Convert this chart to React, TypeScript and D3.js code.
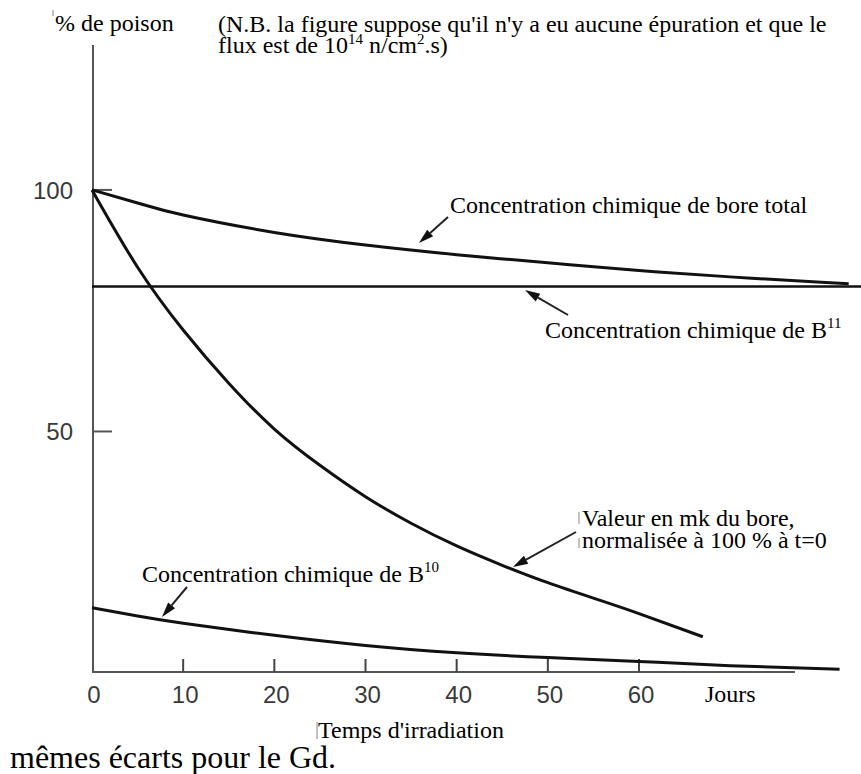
import React from "react";
import * as d3 from "d3";

const xTickValues = [0, 10, 20, 30, 40, 50, 60];
const yTickValues = [50, 100];

const totalDays = [0, 5, 10, 20, 30, 40, 50, 60, 70, 80, 83];
const totalPct = [100, 97.3, 94.8, 91.2, 88.6, 86.6, 84.9, 83.3, 82.0, 80.9, 80.6];

const b11Days = [0, 84.5];
const b11Pct = [80, 80];

const mkDays = [0, 5, 10, 15, 20, 25, 30, 35, 40, 45, 50, 55, 60, 67];
const mkPct = [100, 84, 71, 60, 50.5, 43, 36.5, 31, 26.3, 22.3, 18.7, 15.5, 12.3, 7.5];

const b10Days = [0, 5, 10, 20, 30, 40, 50, 60, 70, 82];
const b10Pct = [13.5, 11.8, 10.3, 7.8, 5.7, 4.2, 3.2, 2.4, 1.5, 0.8];

const W = 861;
const H = 774;

const x = d3.scaleLinear().domain([0, 60]).range([92, 639]);
const y = d3.scaleLinear().domain([0, 130]).range([673, 45]);

const serif = "'Liberation Serif', 'Times New Roman', serif";
const sans = "'Liberation Sans', Arial, sans-serif";

function zip(a: number[], b: number[]): [number, number][] {
  return a.map((d, i) => [d, b[i]]);
}

const lineGen = d3
  .line<[number, number]>()
  .x((d) => x(d[0]))
  .y((d) => y(d[1]))
  .curve(d3.curveNatural);

function Arrow({ x1, y1, x2, y2 }: { x1: number; y1: number; x2: number; y2: number }) {
  const ang = Math.atan2(y2 - y1, x2 - x1);
  const len = 15;
  const half = 4.5;
  const bx = x2 - len * Math.cos(ang);
  const by = y2 - len * Math.sin(ang);
  const px = -Math.sin(ang) * half;
  const py = Math.cos(ang) * half;
  return (
    <g>
      <line x1={x1} y1={y1} x2={bx} y2={by} stroke="#222" strokeWidth={2} />
      <path d={`M${x2},${y2} L${bx + px},${by + py} L${bx - px},${by - py} Z`} fill="#111" />
    </g>
  );
}

export default function App() {
  const xAxisEnd = 795;
  return (
    <svg
      width={W}
      height={H}
      style={{ position: "absolute", left: 0, top: 0, background: "#fff" }}
    >
      {/* axes */}
      <line x1={x(0) + 1} y1={y(130)} x2={x(0) + 1} y2={672} stroke="#555" strokeWidth={2} />
      <line x1={x(0)} y1={672} x2={xAxisEnd} y2={672} stroke="#555" strokeWidth={2} />
      {xTickValues.slice(1).map((t) => (
        <line key={"xt" + t} x1={x(t)} x2={x(t)} y1={672} y2={659} stroke="#444" strokeWidth={2} />
      ))}
      {xTickValues.map((t) => (
        <text
          key={"xl" + t}
          x={x(t) + 2}
          y={703}
          textAnchor="middle"
          fontFamily={sans}
          fontSize={24}
          fill="#3a3a3a"
        >
          {t}
        </text>
      ))}
      {yTickValues.map((v) => (
        <line key={"yt" + v} x1={x(0) + 1} x2={x(0) + 20} y1={y(v)} y2={y(v)} stroke="#555" strokeWidth={2} />
      ))}
      {yTickValues.map((v) => (
        <text
          key={"yl" + v}
          x={73}
          y={y(v) + 9}
          textAnchor="end"
          fontFamily={sans}
          fontSize={24}
          fill="#3a3a3a"
        >
          {v}
        </text>
      ))}

      {/* curves */}
      <path d={lineGen(zip(b11Days, b11Pct)) || ""} fill="none" stroke="#111" strokeWidth={2.5} />
      <path d={lineGen(zip(totalDays, totalPct)) || ""} fill="none" stroke="#111" strokeWidth={3} />
      <path d={lineGen(zip(mkDays, mkPct)) || ""} fill="none" stroke="#111" strokeWidth={3} />
      <path d={lineGen(zip(b10Days, b10Pct)) || ""} fill="none" stroke="#111" strokeWidth={3} />

      {/* arrows */}
      <Arrow x1={448} y1={217} x2={419} y2={243} />
      <Arrow x1={568} y1={315} x2={525} y2={290} />
      <Arrow x1={576} y1={532} x2={513} y2={567} />
      <Arrow x1={187} y1={587} x2={162} y2={617} />

      {/* faint scan marks */}
      <g stroke="#999" strokeWidth={1.2}>
        <line x1={53} y1={10} x2={53} y2={16} />
        <line x1={317} y1={722} x2={317} y2={739} />
        <line x1={579} y1={512} x2={579} y2={524} />
        <line x1={579} y1={538} x2={579} y2={548} />
      </g>

      {/* texts */}
      <g fontFamily={serif} fontSize={24} fill="#000">
        <text x={55} y={31}>% de poison</text>
        <text x={218} y={32}>
          (N.B. la figure suppose qu'il n'y a eu aucune épuration et que le
          <tspan x={218} dy={21}>flux est de 10</tspan>
          <tspan dy={-9} fontSize={15}>14</tspan>
          <tspan dy={9}> n/cm</tspan>
          <tspan dy={-9} fontSize={15}>2</tspan>
          <tspan dy={9}>.s)</tspan>
        </text>
        <text x={450} y={213}>Concentration chimique de bore total</text>
        <text x={545} y={338}>
          Concentration chimique de B
          <tspan dy={-10} fontSize={15}>11</tspan>
        </text>
        <text x={582} y={526}>
          Valeur en mk du bore,
          <tspan x={582} dy={22}>normalisée à 100 % à t=0</tspan>
        </text>
        <text x={142} y={582}>
          Concentration chimique de B
          <tspan dy={-10} fontSize={15}>10</tspan>
        </text>
        <text x={705} y={702}>Jours</text>
        <text x={318} y={738}>Temps d'irradiation</text>
        <text x={10} y={768} fontSize={32}>mêmes écarts pour le Gd.</text>
      </g>
    </svg>
  );
}
